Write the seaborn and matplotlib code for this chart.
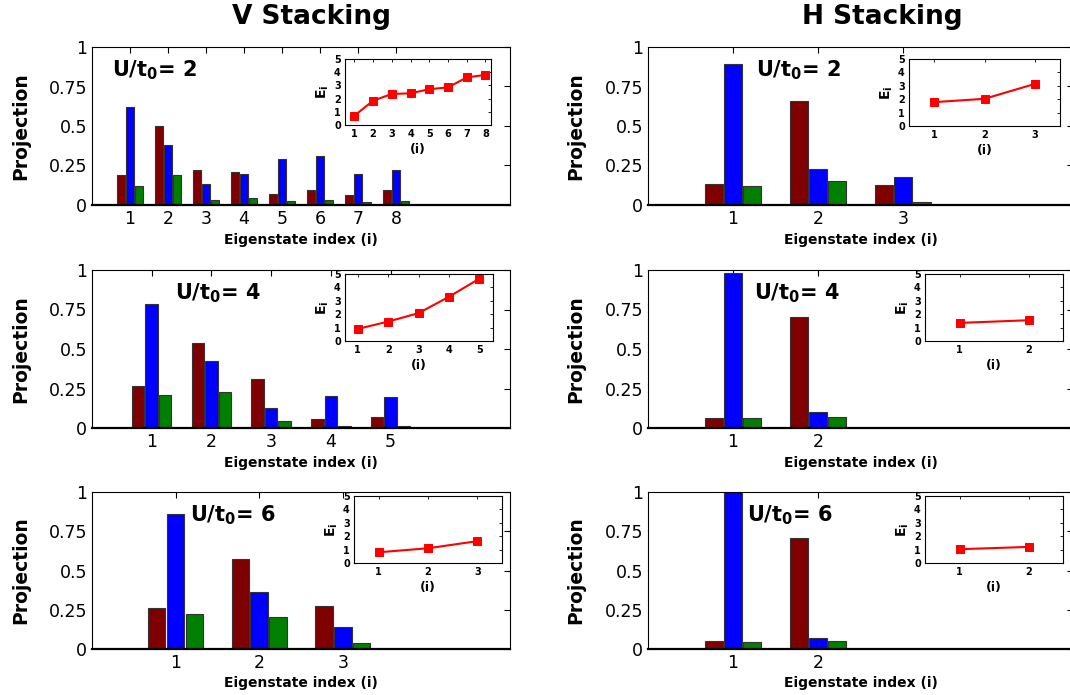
import numpy as np
import pandas as pd
import matplotlib
matplotlib.use('Agg')
from matplotlib import pyplot as plt
import seaborn as sns

# データ：各固有状態への射影 (暗赤, 青, 緑) と固有エネルギー E_i
# V Stacking
v2_red = [0.193, 0.50, 0.222, 0.212, 0.067, 0.092, 0.063, 0.092]
v2_blue = [0.618, 0.38, 0.136, 0.197, 0.293, 0.312, 0.199, 0.224]
v2_green = [0.12, 0.193, 0.031, 0.042, 0.023, 0.029, 0.017, 0.023]
v2_energy = [0.70, 1.84, 2.35, 2.40, 2.71, 2.85, 3.60, 3.80]

v4_red = [0.264, 0.541, 0.309, 0.059, 0.072]
v4_blue = [0.782, 0.421, 0.127, 0.20, 0.195]
v4_green = [0.207, 0.226, 0.042, 0.011, 0.015]
v4_energy = [0.90, 1.45, 2.08, 3.30, 4.65]

v6_red = [0.261, 0.573, 0.276]
v6_blue = [0.86, 0.363, 0.138]
v6_green = [0.223, 0.206, 0.038]
v6_energy = [0.80, 1.10, 1.63]

# H Stacking
h2_red = [0.13, 0.661, 0.124]
h2_blue = [0.893, 0.227, 0.177]
h2_green = [0.118, 0.149, 0.021]
h2_energy = [1.78, 2.03, 3.14]

h4_red = [0.066, 0.70]
h4_blue = [0.979, 0.104]
h4_green = [0.063, 0.072]
h4_energy = [1.35, 1.55]

h6_red = [0.051, 0.705]
h6_blue = [0.998, 0.07]
h6_green = [0.047, 0.051]
h6_energy = [1.03, 1.20]

u_values = [2, 4, 6]
column_titles = ['V Stacking', 'H Stacking']
ytick_values = [0, 0.25, 0.5, 0.75, 1]
ytick_labels = ['0', '0.25', '0.5', '0.75', '1']
inset_yticks = [0, 1, 2, 3, 4, 5]

bar_colors = ['#7f0000', '#0000ff', '#007f00']

# スタイル設定 (set_style の後にフォントと色を指定)
sns.set_style('white')
plt.rcParams['font.family'] = ['DejaVu Sans']
plt.rcParams['mathtext.fontset'] = 'dejavusans'
plt.rcParams['mathtext.default'] = 'bf'
plt.rcParams['text.color'] = 'black'
plt.rcParams['axes.labelcolor'] = 'black'
plt.rcParams['xtick.color'] = 'black'
plt.rcParams['ytick.color'] = 'black'

W, H = 1070, 695
fig = plt.figure(figsize=(W / 100, H / 100), dpi=100)


def box(l, r, t, b):
    # ピクセル位置 → figure 座標
    return [l / W, 1 - b / H, (r - l) / W, (b - t) / H]


panels = [
    # (データ, メイン軸位置, インセット位置, x範囲, インセットx範囲, ラベル位置)
    ((v2_red, v2_blue, v2_green, v2_energy), box(92, 510, 47, 205), box(345, 491, 59, 125),
     (0, 11), (0.5, 8.3), (0.048, 'left')),
    ((v4_red, v4_blue, v4_green, v4_energy), box(92, 510, 270, 428), box(345, 493, 274, 341),
     (0, 7), (0.58, 5.45), (0.30, 'center')),
    ((v6_red, v6_blue, v6_green, v6_energy), box(92, 510, 492, 649), box(354, 502, 496, 563),
     (0, 5), (0.5, 3.5), (0.337, 'center')),
    ((h2_red, h2_blue, h2_green, h2_energy), box(648, 1073, 47, 205), box(909, 1060, 59, 126),
     (0, 5), (0.5, 3.5), (0.353, 'center')),
    ((h4_red, h4_blue, h4_green, h4_energy), box(648, 1073, 270, 428), box(925, 1063, 274, 341),
     (0, 5), (0.5, 2.5), (0.351, 'center')),
    ((h6_red, h6_blue, h6_green, h6_energy), box(648, 1073, 492, 649), box(925, 1063, 496, 563),
     (0, 5), (0.5, 2.5), (0.334, 'center')),
]

for k, (data, pos, inset_pos, xlim, inset_xlim, (lx, lha)) in enumerate(panels):
    red, blue, green, energy = data
    n = len(red)
    idx = list(range(1, n + 1))
    df = pd.DataFrame({
        'i': idx * 3,
        'comp': ['a'] * n + ['b'] * n + ['c'] * n,
        'val': list(red) + list(blue) + list(green),
    })

    ax = fig.add_axes(pos)
    sns.barplot(data=df, x='i', y='val', hue='comp', native_scale=True,
                palette=bar_colors, saturation=1, width=0.68, gap=0.08,
                errorbar=None, edgecolor='0.2', linewidth=0.8, legend=False,
                ax=ax)
    ax.set_xlim(*xlim)
    ax.set_ylim(0, 1)
    ax.set_xticks(idx)
    ax.set_xticklabels([str(i) for i in idx])
    ax.set_yticks(ytick_values)
    ax.set_yticklabels(ytick_labels)
    ax.tick_params(direction='in', top=True, right=True, length=4, width=0.8,
                   labelsize=12.5, colors='k')
    for s in ax.spines.values():
        s.set_visible(True)
        s.set_color('k')
        s.set_linewidth(0.8)
    ax.spines['bottom'].set_linewidth(1.6)
    ax.set_ylabel('Projection', fontsize=13.5, fontweight='bold')
    ax.yaxis.set_label_coords(-0.148, 0.5)
    ax.set_xlabel('Eigenstate index (i)', fontsize=10, fontweight='bold')
    ax.xaxis.set_label_coords(0.5, -0.175)
    ax.xaxis.label.set_va('top')
    ax.text(lx, 0.93, 'U/t$_0$= %d' % u_values[k % 3], transform=ax.transAxes,
            ha=lha, va='top', fontsize=15, fontweight='bold')

    # インセット：固有エネルギー
    axin = fig.add_axes(inset_pos)
    sns.lineplot(x=idx, y=energy, marker='s', markersize=6, color='#ff0000',
                 markeredgecolor='#ff0000', linewidth=1.5, ax=axin)
    axin.set_xlim(*inset_xlim)
    axin.set_ylim(0, 5)
    axin.set_xticks(idx)
    axin.set_xticklabels([str(i) for i in idx])
    axin.set_yticks(inset_yticks)
    axin.set_yticklabels([str(v) for v in inset_yticks])
    axin.tick_params(direction='in', top=True, right=True, length=2.5, width=0.6,
                     labelsize=7, pad=3)
    for lab in axin.get_xticklabels() + axin.get_yticklabels():
        lab.set_fontweight('bold')
    for s in axin.spines.values():
        s.set_visible(True)
        s.set_color('k')
        s.set_linewidth(0.8)
    axin.set_xlabel('(i)', fontsize=9, fontweight='bold', labelpad=3)
    axin.set_ylabel('$E_i$', fontsize=10, fontweight='bold', labelpad=2)

# 列タイトル
fig.text(311 / W, 1 - 17 / H, column_titles[0], ha='center', va='center',
         fontsize=19, fontweight='bold')
fig.text(882 / W, 1 - 17 / H, column_titles[1], ha='center', va='center',
         fontsize=19, fontweight='bold')

fig.savefig('out.png', dpi=100)
